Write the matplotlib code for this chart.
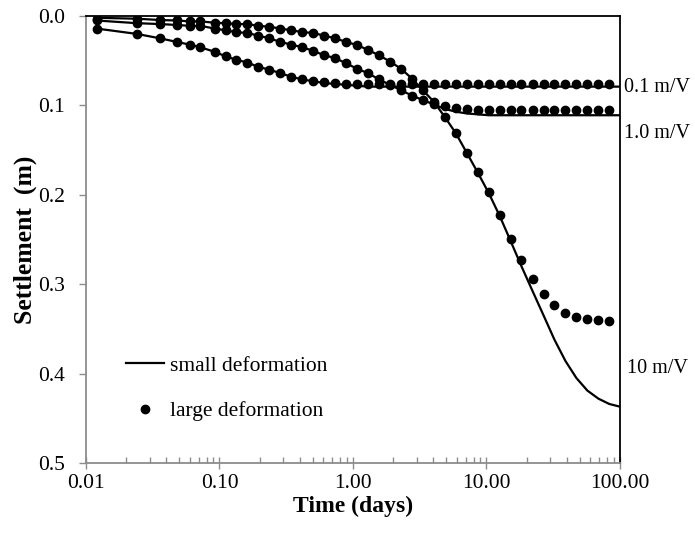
import matplotlib
matplotlib.use("Agg")
import matplotlib.pyplot as plt
import matplotlib.transforms as mtransforms

plt.rcParams['font.family'] = ['Liberation Serif', 'DejaVu Serif']

# time of the computed points (days)
t_pts = [0.012, 0.024, 0.036, 0.048, 0.060, 0.072, 0.092, 0.111, 0.134, 0.162,
         0.196, 0.237, 0.286, 0.346, 0.418, 0.505, 0.610, 0.737, 0.890, 1.075,
         1.30, 1.57, 1.90, 2.29, 2.77, 3.34, 4.04, 4.88, 5.89, 7.12,
         8.60, 10.4, 12.6, 15.2, 18.3, 22.2, 26.8, 32.3, 39.1, 47.2,
         57.0, 68.9, 83.2]
t_line = t_pts + [100.0]

# large deformation (dots)
large_01 = [0.014, 0.020, 0.025, 0.029, 0.032, 0.035, 0.040, 0.045, 0.049, 0.052,
            0.057, 0.060, 0.064, 0.068, 0.071, 0.073, 0.074, 0.075, 0.076, 0.076,
            0.076, 0.076, 0.076, 0.076, 0.076, 0.076, 0.076, 0.076, 0.076, 0.076,
            0.076, 0.076, 0.076, 0.076, 0.076, 0.076, 0.076, 0.076, 0.076, 0.076,
            0.076, 0.076, 0.076]
large_1 = [0.005, 0.008, 0.009, 0.010, 0.011, 0.011, 0.014, 0.016, 0.018, 0.019,
           0.022, 0.025, 0.029, 0.032, 0.035, 0.039, 0.044, 0.047, 0.053, 0.059,
           0.064, 0.071, 0.077, 0.083, 0.089, 0.094, 0.098, 0.101, 0.103, 0.104,
           0.105, 0.105, 0.105, 0.105, 0.105, 0.105, 0.105, 0.105, 0.105, 0.105,
           0.105, 0.105, 0.105]
large_10 = [0.003, 0.003, 0.0045, 0.005, 0.006, 0.006, 0.0075, 0.008, 0.009, 0.009,
            0.011, 0.012, 0.014, 0.016, 0.018, 0.019, 0.022, 0.025, 0.029, 0.0325,
            0.038, 0.044, 0.051, 0.059, 0.070, 0.083, 0.096, 0.113, 0.131, 0.153,
            0.175, 0.197, 0.223, 0.249, 0.273, 0.294, 0.311, 0.323, 0.332, 0.337,
            0.339, 0.340, 0.341]

# small deformation (solid lines)
small_01 = [0.014, 0.020, 0.025, 0.029, 0.032, 0.035, 0.040, 0.045, 0.049, 0.052,
            0.057, 0.060, 0.064, 0.068, 0.071, 0.073, 0.075, 0.076, 0.077, 0.078,
            0.079, 0.079, 0.079, 0.079, 0.079, 0.079, 0.079, 0.079, 0.079, 0.079,
            0.079, 0.079, 0.079, 0.079, 0.079, 0.079, 0.079, 0.079, 0.079, 0.079,
            0.079, 0.079, 0.079, 0.079]
small_1 = [0.005, 0.008, 0.009, 0.010, 0.011, 0.011, 0.014, 0.016, 0.018, 0.019,
           0.022, 0.025, 0.029, 0.032, 0.035, 0.039, 0.044, 0.047, 0.053, 0.059,
           0.064, 0.071, 0.077, 0.083, 0.089, 0.094, 0.099, 0.104, 0.107, 0.109,
           0.110, 0.111, 0.111, 0.111, 0.111, 0.111, 0.111, 0.111, 0.111, 0.111,
           0.111, 0.111, 0.111, 0.111]
small_10 = [0.002, 0.003, 0.0045, 0.005, 0.006, 0.006, 0.0075, 0.008, 0.009, 0.009,
            0.011, 0.012, 0.014, 0.016, 0.018, 0.019, 0.022, 0.025, 0.029, 0.0325,
            0.038, 0.044, 0.051, 0.059, 0.070, 0.083, 0.096, 0.113, 0.131, 0.153,
            0.175, 0.198, 0.224, 0.252, 0.280, 0.308, 0.335, 0.362, 0.386, 0.405,
            0.419, 0.428, 0.434, 0.437]

x_ticks = [0.01, 0.1, 1, 10, 100]
x_ticklabels = ['0.01', '0.10', '1.00', '10.00', '100.00']
y_ticks = [0.0, 0.1, 0.2, 0.3, 0.4, 0.5]
y_ticklabels = ['0.0', '0.1', '0.2', '0.3', '0.4', '0.5']

curve_labels = ['0.1 m/V', '1.0 m/V', '10 m/V']
label_y = [0.0795, 0.131, 0.394]

fig = plt.figure(figsize=(6.95, 5.34), dpi=100)
ax = fig.add_axes([0.1237, 0.133, 0.7683, 0.837])

for ys in (small_01, small_1, small_10):
    ax.plot(t_line, ys, color='black', lw=1.6, zorder=2)
for ys in (large_01, large_1, large_10):
    ax.plot(t_pts, ys, 'o', color='black', ms=6, ls='none', zorder=3)

ax.set_xscale('log')
ax.set_xlim(0.01, 100)
ax.set_ylim(0.5, 0.0)
ax.set_xticks(x_ticks)
ax.set_xticklabels(x_ticklabels)
ax.set_yticks(y_ticks)
ax.set_yticklabels(y_ticklabels)

gray = '#8c8c8c'
for side in ('left', 'bottom'):
    ax.spines[side].set_color(gray)
    ax.spines[side].set_linewidth(1.3)
for side in ('top', 'right'):
    ax.spines[side].set_color('black')
    ax.spines[side].set_linewidth(1.3)

ax.tick_params(axis='y', direction='out', length=5, width=1, color=gray,
               labelsize=15.5, pad=10, right=False)
ax.tick_params(axis='x', which='major', direction='inout', length=8, width=1,
               color=gray, labelsize=15.5, pad=4, top=False)
ax.tick_params(axis='x', which='minor', direction='in', length=4, width=1,
               color=gray, top=False)

ax.set_xlabel('Time (days)', fontsize=17, fontweight='bold', labelpad=2)
ax.set_ylabel('Settlement  (m)', fontsize=18.5, fontweight='bold', labelpad=1)

trans = mtransforms.blended_transform_factory(ax.transAxes, ax.transData)
for lab, yy in zip(curve_labels, label_y):
    dx = 1.013 if lab.startswith('10') else 1.007
    ax.text(dx, yy, lab, transform=trans, fontsize=14.5, va='center', ha='left')

h_line, = ax.plot([], [], color='black', lw=1.6)
h_dot, = ax.plot([], [], 'o', color='black', ms=6, ls='none')
ax.legend([h_line, h_dot], ['small deformation', 'large deformation'],
          loc='center left', bbox_to_anchor=(126 / 695, 1 - 388.5 / 534),
          bbox_transform=fig.transFigure, frameon=False, fontsize=15.5,
          handlelength=1.75, handletextpad=0.3, labelspacing=1.2,
          borderpad=0, borderaxespad=0)

fig.savefig('out.png', dpi=100)
